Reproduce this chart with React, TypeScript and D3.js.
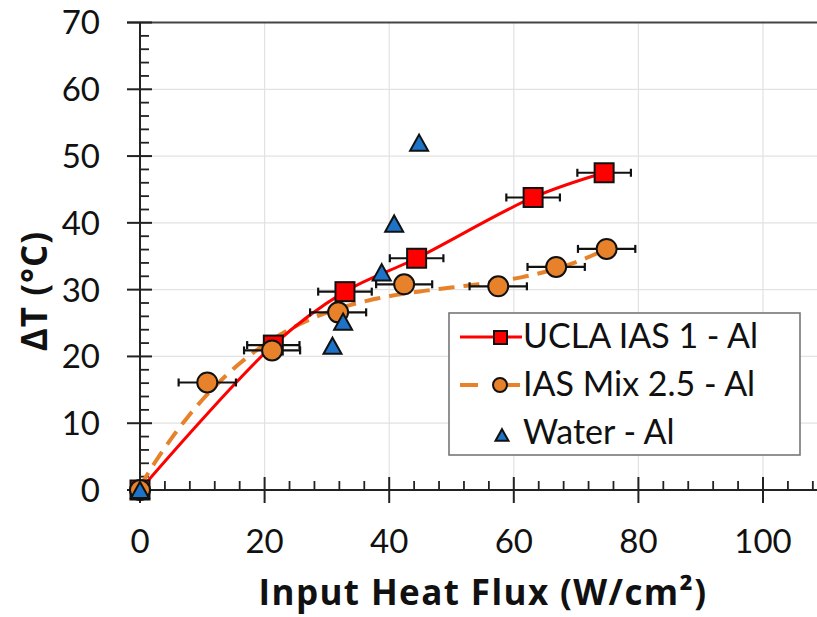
import React from 'react';
import * as d3 from 'd3';

const W = 817;
const H = 617;

// Tick values
const xTicks = [0, 20, 40, 60, 80, 100];
const yTicks = [0, 10, 20, 30, 40, 50, 60, 70];
const xMinorTicks = d3.range(0, 110, 4);
const yMinorTicks = d3.range(0, 70, 2);

// Series: UCLA IAS 1 - Al (red squares, smoothed line)
const uclaX = [0, 21.4, 32.9, 44.4, 63.1, 74.5];
const uclaY = [0, 21.7, 29.7, 34.7, 43.8, 47.5];
const uclaErr = [0, 4.2, 4.3, 4.3, 4.3, 4.3];

// Series: IAS Mix 2.5 - Al (orange circles, dashed polynomial trend)
const mixX = [0, 10.8, 21.2, 31.8, 42.4, 57.5, 66.8, 74.9];
const mixY = [0, 16.1, 20.9, 26.6, 30.8, 30.5, 33.4, 36.1];
const mixErr = [0, 4.6, 4.5, 4.5, 4.5, 4.6, 4.6, 4.6];

// Series: Water - Al (blue triangles)
const waterX = [0, 30.9, 32.6, 38.8, 40.8, 44.8];
const waterY = [0, 21.6, 25.2, 32.6, 39.9, 52.0];

const legendLabels = ['UCLA IAS 1 - Al', 'IAS Mix 2.5 - Al', 'Water - Al'];

const RED = '#FF0000';
const ORANGE = '#E8822A';
const BLUE = '#1C73C7';
const FONT = 'Lato, "Open Sans", sans-serif';
const TITLE_FONT = '"Open Sans", Lato, sans-serif';

function polyFit(xs: number[], ys: number[], deg: number): number[] {
  const n = deg + 1;
  const A: number[][] = [];
  for (let i = 0; i < n; i++) {
    const row: number[] = [];
    for (let j = 0; j < n; j++) {
      row.push(d3.sum(xs, (v) => Math.pow(v, i + j)));
    }
    row.push(d3.sum(xs, (v, k) => Math.pow(v, i) * ys[k]));
    A.push(row);
  }
  for (let c = 0; c < n; c++) {
    let p = c;
    for (let r = c + 1; r < n; r++) if (Math.abs(A[r][c]) > Math.abs(A[p][c])) p = r;
    [A[c], A[p]] = [A[p], A[c]];
    for (let r = 0; r < n; r++) {
      if (r === c) continue;
      const f = A[r][c] / A[c][c];
      for (let k = c; k <= n; k++) A[r][k] -= f * A[c][k];
    }
  }
  return A.map((row, i) => row[n] / row[i]);
}

export default function App() {
  const x = d3.scaleLinear().domain([0, 100]).range([140, 763]);
  const y = d3.scaleLinear().domain([0, 70]).range([490, 22.5]);
  const xEnd = 830;

  const redLine = d3
    .line<number>()
    .x((_, i) => x(uclaX[i]))
    .y((_, i) => y(uclaY[i]))
    .curve(d3.curveCatmullRom.alpha(0.5))(uclaX);

  const coef = polyFit(mixX, mixY, 3);
  const xMax = d3.max(mixX) as number;
  const samples = d3.range(0, 121).map((i) => (i / 120) * xMax);
  const orangeLine = d3
    .line<number>()
    .x((v) => x(v))
    .y((v) => y(coef.reduce((s, c, k) => s + c * Math.pow(v, k), 0)))(samples);

  const tri = (cx: number, cy: number, s: number) => {
    const h = s * 0.9;
    return `M${cx},${cy - h / 2}L${cx + s / 2},${cy + h / 2}L${cx - s / 2},${cy + h / 2}Z`;
  };

  const errBar = (xv: number, yv: number, e: number, key: string) => {
    if (e <= 0) return null;
    const x1 = x(xv - e);
    const x2 = x(xv + e);
    const yy = y(yv);
    return (
      <g key={key} stroke="#111" strokeWidth={2.2}>
        <line x1={x1} x2={x2} y1={yy} y2={yy} />
        <line x1={x1} x2={x1} y1={yy - 4} y2={yy + 4} />
        <line x1={x2} x2={x2} y1={yy - 4} y2={yy + 4} />
      </g>
    );
  };

  const lx = 449;
  const ly = 313;

  return (
    <svg
      width={W}
      height={H}
      style={{ position: 'absolute', left: 0, top: 0, background: '#fff' }}
      fontFamily={FONT}
    >
      <rect x={0} y={0} width={W} height={H} fill="#fff" />
      {/* grid */}
      <g stroke="#e2e2e2" strokeWidth={1.2}>
        {xTicks.filter((t) => t > 0).map((t) => (
          <line key={'gx' + t} x1={x(t)} x2={x(t)} y1={y(70)} y2={y(0)} />
        ))}
        {yTicks.filter((t) => t > 0 && t < 70).map((t) => (
          <line key={'gy' + t} x1={x(0)} x2={xEnd} y1={y(t)} y2={y(t)} />
        ))}
      </g>
      {/* top border */}
      <line x1={127} x2={xEnd} y1={y(70)} y2={y(70)} stroke="#444" strokeWidth={2} />

      {/* axes */}
      <g stroke="#222" strokeWidth={2}>
        <line x1={x(0)} x2={x(0)} y1={y(70)} y2={y(0)} />
        <line x1={127} x2={xEnd} y1={y(0)} y2={y(0)} />
        {yTicks.map((t) => (
          <line key={'yt' + t} x1={127} x2={152} y1={y(t)} y2={y(t)} />
        ))}
        {yMinorTicks.filter((t) => t % 10 !== 0).map((t) => (
          <line key={'ym' + t} x1={x(0)} x2={x(0) + 9} y1={y(t)} y2={y(t)} strokeWidth={1.8} />
        ))}
        {xTicks.map((t) => (
          <line key={'xt' + t} x1={x(t)} x2={x(t)} y1={y(0) - 13} y2={y(0) + 13} />
        ))}
        {xMinorTicks.filter((t) => t % 20 !== 0).map((t) => (
          <line key={'xm' + t} x1={x(t)} x2={x(t)} y1={y(0)} y2={y(0) - 9} strokeWidth={1.8} />
        ))}
      </g>

      {/* tick labels */}
      <g fill="#111" fontSize={33}>
        {yTicks.map((t) => (
          <text key={'yl' + t} x={100} y={y(t)} dy="0.36em" textAnchor="end">
            {t}
          </text>
        ))}
        {xTicks.map((t) => (
          <text key={'xl' + t} x={x(t)} y={553} textAnchor="middle">
            {t}
          </text>
        ))}
      </g>

      {/* axis titles */}
      <text
        x={483}
        y={605}
        textAnchor="middle"
        fontSize={35}
        fontWeight="bold"
        fill="#111"
        fontFamily={TITLE_FONT}
        letterSpacing={1.4}
      >
        Input Heat Flux (W/cm²)
      </text>
      <text
        transform="translate(47,291) rotate(-90)"
        textAnchor="middle"
        fontSize={35}
        fontWeight="bold"
        fill="#111"
        fontFamily={TITLE_FONT}
        letterSpacing={1}
      >
        ΔT (°C)
      </text>

      {/* lines */}
      <path d={orangeLine || ''} fill="none" stroke={ORANGE} strokeWidth={4} strokeDasharray="16,9" />
      <path d={redLine || ''} fill="none" stroke={RED} strokeWidth={3} />

      {/* error bars */}
      {uclaX.map((v, i) => errBar(v, uclaY[i], uclaErr[i], 'ue' + i))}
      {mixX.map((v, i) => errBar(v, mixY[i], mixErr[i], 'me' + i))}

      {/* markers */}
      {uclaX.map((v, i) => (
        <rect
          key={'us' + i}
          x={x(v) - 9.5}
          y={y(uclaY[i]) - 9.5}
          width={19}
          height={19}
          fill={RED}
          stroke="#111"
          strokeWidth={2}
        />
      ))}
      {mixX.map((v, i) => (
        <circle key={'mc' + i} cx={x(v)} cy={y(mixY[i])} r={10} fill={ORANGE} stroke="#111" strokeWidth={2} />
      ))}
      {waterX.map((v, i) => (
        <path key={'wt' + i} d={tri(x(v), y(waterY[i]), 18)} fill={BLUE} stroke="#111" strokeWidth={2} />
      ))}

      {/* legend */}
      <g>
        <rect x={lx} y={ly} width={351} height={142} fill="#fff" stroke="#777" strokeWidth={1.6} />
        <line x1={460} x2={522} y1={337} y2={337} stroke={RED} strokeWidth={3} />
        <rect x={494} y={331} width={13} height={13} fill={RED} stroke="#111" strokeWidth={2} />
        <line x1={460} x2={478} y1={385} y2={385} stroke={ORANGE} strokeWidth={4} />
        <line x1={500} x2={520} y1={385} y2={385} stroke={ORANGE} strokeWidth={4} />
        <circle cx={500} cy={385} r={7} fill={ORANGE} stroke="#111" strokeWidth={2} />
        <path d={tri(502, 435, 13)} fill={BLUE} stroke="#111" strokeWidth={2} />
        <g fontSize={34} fill="#111">
          <text x={523} y={348}>{legendLabels[0]}</text>
          <text x={523} y={396}>{legendLabels[1]}</text>
          <text x={523} y={444}>{legendLabels[2]}</text>
        </g>
      </g>
    </svg>
  );
}
